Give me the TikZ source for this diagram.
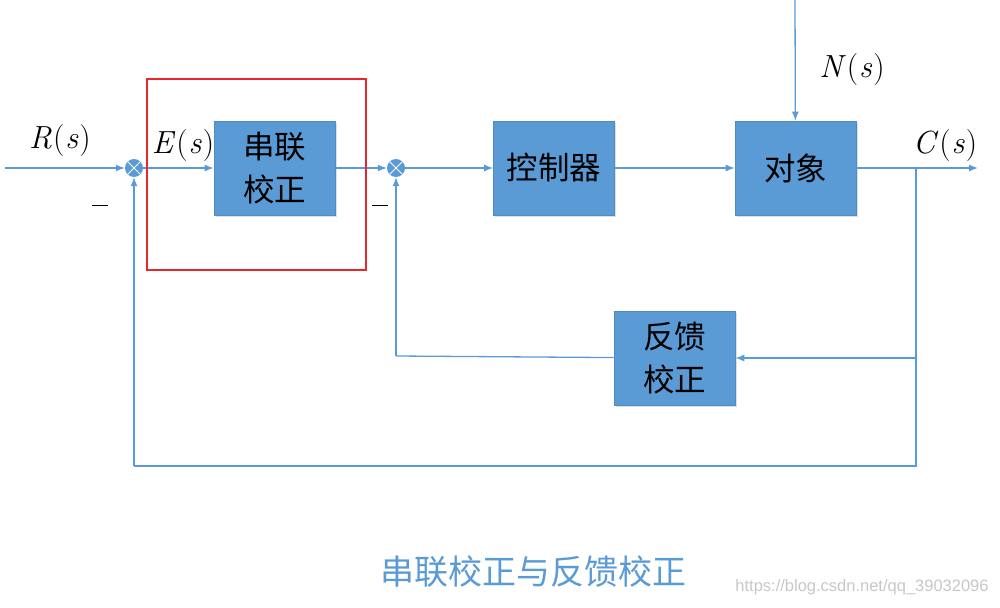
\documentclass[tikz,border=0pt]{standalone}
\usepackage{fontspec}
\usepackage{amsmath}
\newfontfamily\cjk{Noto Sans CJK SC}
\newfontfamily\wmfont{Liberation Sans}
\usetikzlibrary{arrows.meta,shadows}
\definecolor{sigblue}{HTML}{5B9BD5}
\definecolor{boxred}{HTML}{E8262C}
\newcommand{\sig}[1]{\textit{#1}\kern1pt(\kern1pt\textit{s}\kern1pt)}

\begin{document}
\begin{tikzpicture}[x=1pt,y=-1pt,
    blk/.style={fill=sigblue, draw=sigblue!90!black, line width=0.6pt, minimum width=121pt, minimum height=94pt,
        inner sep=0pt, align=center, font=\cjk\fontsize{31.5}{43}\selectfont,
        drop shadow={opacity=0.25, shadow xshift=1.5pt, shadow yshift=-2pt}},
    sum/.style={circle, fill=sigblue, minimum size=18pt, inner sep=0pt,
        path picture={\draw[white, line width=0.8pt]
            (path picture bounding box.north west) -- (path picture bounding box.south east)
            (path picture bounding box.north east) -- (path picture bounding box.south west);}},
    line/.style={draw=sigblue, line width=1.3pt},
    sig/.style={line, -{Latex[length=9pt,width=7pt]}},
    lbl/.style={font=\fontsize{32}{36}\selectfont},
    minus/.style={fill=black, minimum width=16pt, minimum height=1pt, inner sep=0pt}]
    \useasboundingbox (0,0) rectangle (1000,607);

    % blocks
    \node[blk] (ser) at (274.5,168) {串联\\校正};
    \node[blk] (ctl) at (554,168) {控制器};
    \node[blk] (plant) at (795.5,168) {对象};
    \node[blk] (fb) at (674.5,358) {反馈\\校正};

    % summing points
    \node[sum] (s1) at (134,168) {};
    \node[sum] (s2) at (396,168) {};

    \coordinate (in) at (5,168);
    \coordinate (out) at (978,168);
    \coordinate (br) at (916,168);
    \coordinate (noise) at (795,0);
    \coordinate (b1) at (916,358);
    \coordinate (b2) at (916,466);
    \coordinate (b3) at (134,466);
    \coordinate (b4) at (396,356);

    % forward path
    \draw[sig] (in) -- (s1);
    \draw[sig] (s1) -- (ser);
    \draw[sig] (ser) -- (s2);
    \draw[sig] (s2) -- (ctl);
    \draw[sig] (ctl) -- (plant);
    \draw[sig] (plant) -- (out);
    \draw[sig] (noise) -- (plant);

    % feedback paths
    \draw[line] (br) -- (b2) -- (b3);
    \draw[sig] (b3) -- (s1);
    \draw[sig] (b1) -- (fb);
    \draw[line] (fb) -- (b4);
    \draw[sig] (b4) -- (s2);

    % series compensation frame
    \node[draw=boxred, line width=2.2pt, minimum width=219pt, minimum height=191pt] (grp) at (256.5,174.5) {};

    % labels
    \node[lbl] (R) at (60,141) {\sig{R}};
    \node[lbl] (E) at (183,146) {\sig{E}};
    \node[lbl] (C) at (945,146) {\sig{C}};
    \node[lbl] (N) at (852,70) {\sig{N}};
    \node[minus] (m1) at (100,205) {};
    \node[minus] (m2) at (380,205) {};

    \node[font=\cjk\fontsize{34}{36}\selectfont, text=sigblue] (title) at (533,572) {串联校正与反馈校正};
    \node[font=\wmfont\fontsize{16.5}{18}\selectfont, text=black!22] (wm) at (862,587) {https://blog.csdn.net/qq\_39032096};
\end{tikzpicture}
\end{document}
